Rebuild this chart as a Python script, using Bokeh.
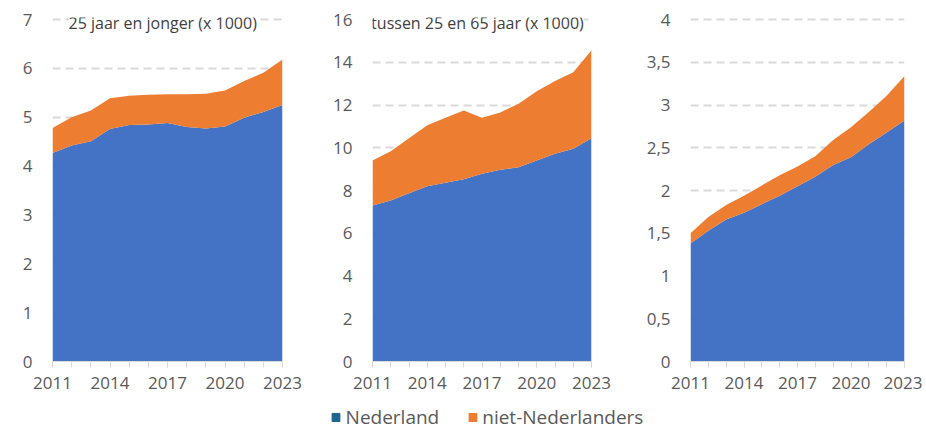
from bokeh.plotting import figure
from bokeh.layouts import row, column
from bokeh.models import Range1d, FixedTicker, Label, Legend, LegendItem, ColumnDataSource
from bokeh.embed import file_html
from bokeh.resources import INLINE

# ---------------- data ----------------
years = list(range(2011, 2024))
x_tick_years = [2011, 2014, 2017, 2020, 2023]

# 25 jaar en jonger (x 1000)
young_nl = [4.27, 4.42, 4.51, 4.76, 4.84, 4.85, 4.88, 4.80, 4.77, 4.81, 4.99, 5.11, 5.25]
young_niet = [0.51, 0.58, 0.63, 0.63, 0.60, 0.61, 0.59, 0.67, 0.71, 0.74, 0.75, 0.80, 0.93]

# tussen 25 en 65 jaar (x 1000)
mid_nl = [7.30, 7.53, 7.87, 8.20, 8.36, 8.53, 8.78, 8.97, 9.09, 9.40, 9.72, 9.95, 10.45]
mid_niet = [2.10, 2.31, 2.58, 2.86, 3.05, 3.22, 2.63, 2.68, 2.97, 3.24, 3.40, 3.59, 4.11]

# third panel (no title in chart)
old_nl = [1.38, 1.53, 1.66, 1.74, 1.84, 1.94, 2.05, 2.16, 2.30, 2.39, 2.54, 2.68, 2.82]
old_niet = [0.12, 0.16, 0.17, 0.20, 0.22, 0.24, 0.23, 0.24, 0.29, 0.35, 0.38, 0.43, 0.52]

young_yticks = [0, 1, 2, 3, 4, 5, 6, 7]
mid_yticks = [0, 2, 4, 6, 8, 10, 12, 14, 16]
old_yticks = [0, 0.5, 1, 1.5, 2, 2.5, 3, 3.5, 4]

series_names = ["Nederland", "niet-Nederlanders"]
titles = ["25 jaar en jonger (x 1000)", "tussen 25 en 65 jaar (x 1000)", None]

# ---------------- style ----------------
BLUE = "#4472C4"
ORANGE = "#ED7D31"
NL_SWATCH = "#1F6591"
GRID = "#D9D9D9"
TXT = "#595959"
TITLE_TXT = "#404040"
FONT = "Open Sans"


def fmt(v):
    return ("%g" % v).replace(".", ",")


def panel(nl, niet, yticks, title, width, bl, br):
    top = yticks[-1]
    p = figure(width=width, height=398,
               x_range=Range1d(years[0], years[-1]),
               y_range=Range1d(yticks[0], top * 1.006),
               output_backend="svg", toolbar_location=None,
               min_border_left=bl, min_border_right=br,
               min_border_top=17, min_border_bottom=37)
    p.outline_line_color = None
    p.background_fill_color = "white"
    src = ColumnDataSource(dict(year=years, nl=nl, niet=niet))
    p.varea_stack(["nl", "niet"], x="year", color=[BLUE, ORANGE], source=src)

    # x axis
    xa = p.xaxis[0]
    xa.ticker = FixedTicker(ticks=x_tick_years, minor_ticks=years)
    xa.axis_line_color = GRID
    xa.axis_line_width = 1
    xa.major_tick_line_color = GRID
    xa.minor_tick_line_color = GRID
    xa.major_tick_in = 0
    xa.major_tick_out = 6
    xa.minor_tick_in = 0
    xa.minor_tick_out = 6
    xa.major_label_standoff = 9
    xa.major_label_text_font = FONT
    xa.major_label_text_font_size = "17px"
    xa.major_label_text_color = TXT

    # y axis
    ya = p.yaxis[0]
    ya.ticker = FixedTicker(ticks=yticks)
    ya.major_label_overrides = {t: fmt(t) for t in yticks}
    ya.axis_line_color = None
    ya.major_tick_line_color = None
    ya.minor_tick_line_color = None
    ya.major_tick_in = 0
    ya.major_tick_out = 0
    ya.major_label_standoff = 20
    ya.major_label_text_font = FONT
    ya.major_label_text_font_size = "17px"
    ya.major_label_text_color = TXT

    p.xgrid.visible = False
    p.ygrid.grid_line_color = GRID
    p.ygrid.grid_line_width = 2
    p.ygrid.grid_line_dash = "8 5"

    if title:
        lab = Label(x=(years[0] + years[-1]) / 2 - 0.25, y=top, text=title,
                    text_align="center", text_baseline="middle", y_offset=-3,
                    text_font=FONT, text_font_size="16px", text_color=TITLE_TXT,
                    background_fill_color="white")
        p.add_layout(lab)
    return p


p1 = panel(young_nl, young_niet, young_yticks, titles[0], 318, 52, 36)
p2 = panel(mid_nl, mid_niet, mid_yticks, titles[1], 318, 54, 45)
p3 = panel(old_nl, old_niet, old_yticks, titles[2], 286, 54, 18)

# legend strip
nan = float("nan")
lg = figure(width=922, height=32, output_backend="svg", toolbar_location=None,
            x_axis_location=None, y_axis_location=None,
            x_range=Range1d(0, 1), y_range=Range1d(0, 1),
            min_border_left=52, min_border_right=0, min_border_top=0, min_border_bottom=0)
lg.outline_line_color = None
lg.grid.visible = False
r1 = lg.quad(left=[nan], right=[nan], top=[nan], bottom=[nan], color=NL_SWATCH)
r2 = lg.quad(left=[nan], right=[nan], top=[nan], bottom=[nan], color=ORANGE)
legend = Legend(items=[LegendItem(label=series_names[0], renderers=[r1]),
                       LegendItem(label=series_names[1], renderers=[r2])],
                orientation="horizontal", location="bottom_center",
                label_text_font=FONT, label_text_font_size="19px",
                label_text_color=TXT, border_line_color=None,
                background_fill_alpha=0, spacing=28, label_standoff=5,
                padding=0, margin=0, glyph_width=10, glyph_height=10)
lg.add_layout(legend, "center")

layout = column(row(p1, p2, p3), lg)
open("out.html", "w").write(file_html(layout, INLINE))
